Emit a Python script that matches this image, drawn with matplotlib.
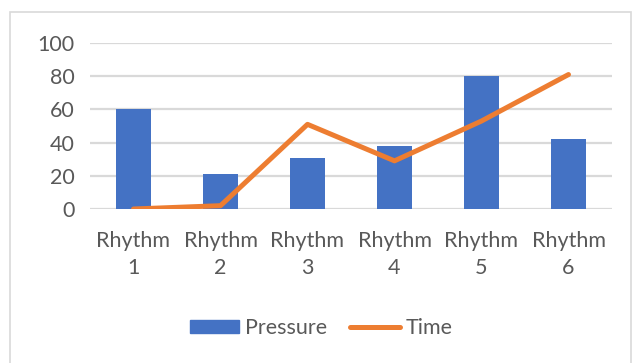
import numpy as np
import matplotlib.pyplot as plt
from matplotlib.patches import Rectangle
from matplotlib.lines import Line2D

categories = ["Rhythm\n1", "Rhythm\n2", "Rhythm\n3", "Rhythm\n4", "Rhythm\n5", "Rhythm\n6"]
pressure = [60, 21, 31, 38, 80, 42]
time_vals = [0, 2, 51, 29, 53, 81]
y_ticks = [0, 20, 40, 60, 80, 100]

blue = "#4472C4"
orange = "#ED7D31"
text_grey = "#595959"

plt.rcParams['font.family'] = ['Lato', 'DejaVu Sans']

fig = plt.figure(figsize=(6.33, 3.63), dpi=100)
# chart frame
fig.patches.append(Rectangle((10 / 633, -0.05), 621 / 633, 1 - 12 / 363 + 0.05,
                             transform=fig.transFigure, fill=False,
                             edgecolor="#D9D9D9", linewidth=1.2))

ax = fig.add_axes([90 / 633, 1 - 209 / 363, 522 / 633, 166 / 363])
x = np.arange(len(categories))
ax.bar(x, pressure, width=0.4, color=blue, zorder=2)
ax.plot(x, time_vals, color=orange, linewidth=3.6, solid_capstyle="round",
        solid_joinstyle="round", zorder=3)

ax.set_xlim(-0.5, len(categories) - 0.5)
ax.set_ylim(0, 100)
ax.set_yticks(y_ticks)
ax.set_xticks(x)
ax.set_xticklabels(categories, linespacing=1.45)
ax.tick_params(axis="both", length=0, labelsize=15.5, labelcolor=text_grey)
ax.tick_params(axis="x", pad=16)
ax.tick_params(axis="y", pad=11)
ax.grid(axis="y", color="#D9D9D9", linewidth=1.6, zorder=0)
for s in ax.spines.values():
    s.set_visible(False)

handles = [Rectangle((0, 0), 1, 1, color=blue),
           Line2D([0], [0], color=orange, linewidth=3.6, solid_capstyle="round")]
fig.legend(handles, ["Pressure", "Time"], loc="center", bbox_to_anchor=(321 / 633, 1 - 328 / 363),
           ncol=2, frameon=False, fontsize=15.5, labelcolor=text_grey,
           handlelength=2.3, handletextpad=0.25, columnspacing=1.1, handleheight=0.6)

fig.savefig("out.png", dpi=100)
